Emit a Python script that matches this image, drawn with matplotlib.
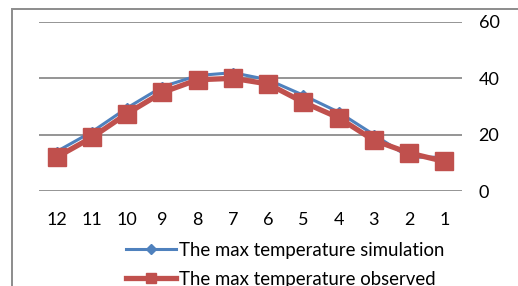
import matplotlib
matplotlib.use("Agg")
import matplotlib.pyplot as plt
from matplotlib.patches import Rectangle

months = ["12", "11", "10", "9", "8", "7", "6", "5", "4", "3", "2", "1"]
sim = [14, 21, 29.5, 37, 41, 42, 39.5, 34, 28, 20, 12, 12]
obs = [12, 19, 27.5, 35, 39.5, 40, 38, 31.5, 26, 18, 13.5, 10.5]
yticks = [0, 20, 40, 60]

plt.rcParams['font.family'] = ['Lato', 'DejaVu Sans']

W, H = 518, 286
fig = plt.figure(figsize=(W / 100, H / 100), dpi=100)
fig.patches.append(Rectangle((12 / W, -0.1), 1.2, 1.1 - 9 / H, transform=fig.transFigure,
                             fill=False, edgecolor='#8c8c8c', linewidth=1.4))

ax = fig.add_axes([39 / W, 1 - 191 / H, (462 - 39) / W, (191 - 22) / H])
x = list(range(len(months)))
ax.plot(x, sim, color='#4F81BD', linewidth=2.2, marker='D', markersize=5,
        label='The max temperature simulation', zorder=3)
ax.plot(x, obs, color='#C0504D', linewidth=3.8, marker='s', markersize=13,
        label='The max temperature observed', zorder=4)

ax.set_xlim(-0.5, len(months) - 0.5)
ax.set_ylim(0, 60)
ax.set_xticks(x)
ax.set_xticklabels(months)
ax.set_yticks(yticks)
ax.yaxis.tick_right()
ax.tick_params(axis='y', length=0, pad=12, labelsize=13)
ax.tick_params(axis='x', length=0, pad=15, labelsize=13)
for t in ax.get_yticklabels():
    t.set_horizontalalignment('left')
ax.grid(axis='y', color='#8c8c8c', linewidth=1.3)
ax.set_axisbelow(True)
for s in ax.spines.values():
    s.set_visible(False)

leg = ax.legend(loc='upper left', bbox_to_anchor=(126 / W, 1 - 242 / H),
                bbox_transform=fig.transFigure, frameon=False, fontsize=13.4,
                handlelength=2.7, handletextpad=0.15, labelspacing=0.62,
                borderpad=0, borderaxespad=0)
hs = leg.legend_handles
hs[0].set_markersize(5)
hs[1].set_markersize(7)

fig.savefig("out.png", dpi=100)
